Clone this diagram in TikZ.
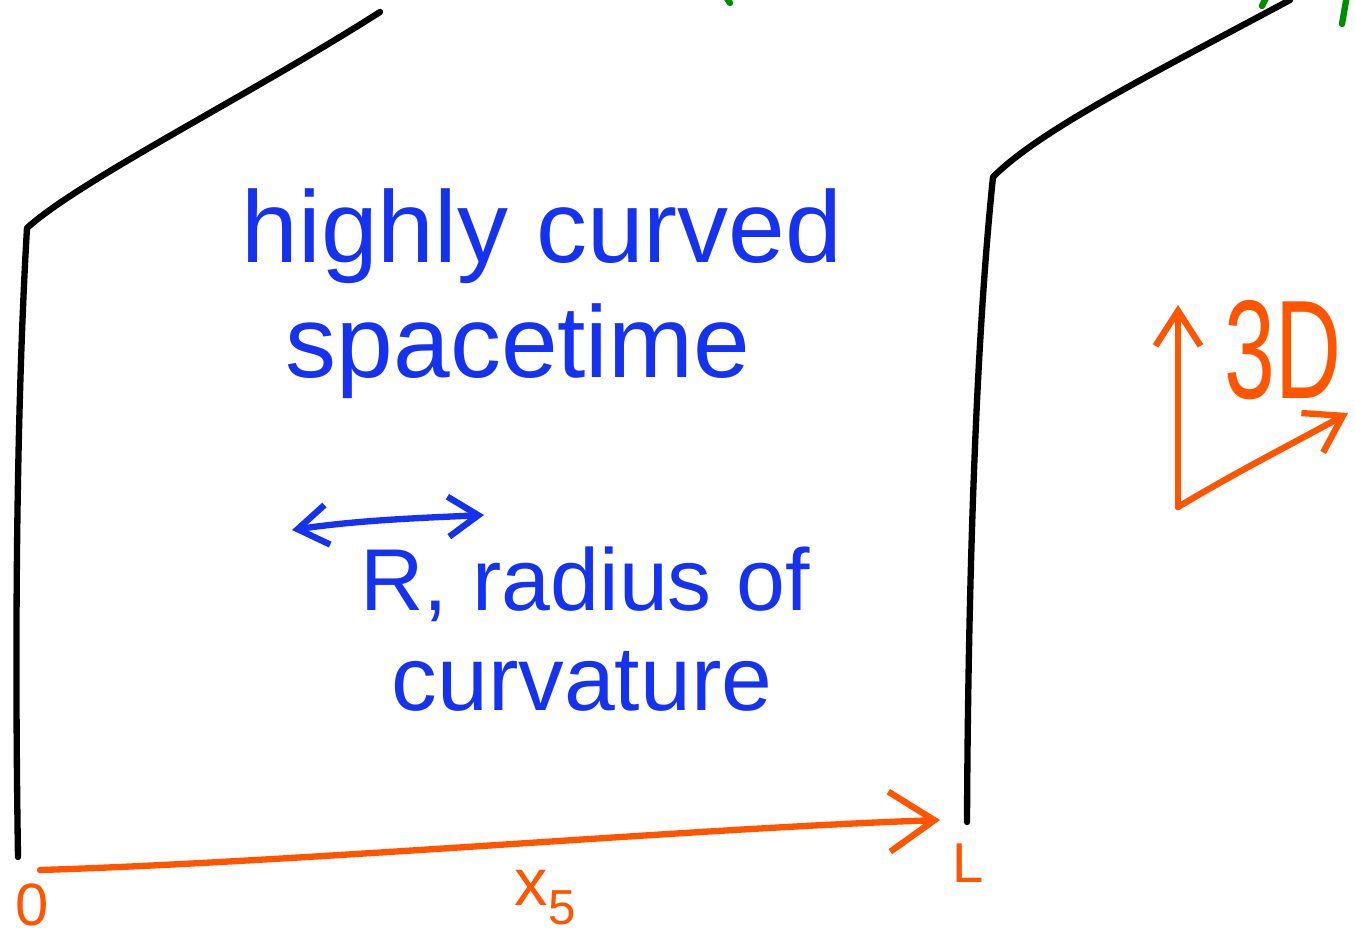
\documentclass[tikz,border=0pt]{standalone}
\usepackage{fontspec}
\setmainfont{Liberation Sans}
\usetikzlibrary{arrows.meta,positioning}

\definecolor{inkblue}{RGB}{20,50,240}
\definecolor{inkorange}{RGB}{255,85,0}
\definecolor{inkgreen}{RGB}{0,140,0}

\begin{document}
\begin{tikzpicture}[
  x=0.02cm,y=-0.02cm,
  pen/.style={line width=3.6pt,line cap=round,line join=round},
  wall/.style={pen,black},
  axis/.style={pen,inkorange,-{Straight Barb[length=9mm,width=12mm]}},
  smallaxis/.style={pen,inkorange,-{Straight Barb[length=7mm,width=9mm]}},
  note/.style={inkblue,font=\fontsize{58}{60}\selectfont,inner sep=0pt,anchor=base},
  tag/.style={inkorange,font=\fontsize{34}{36}\selectfont,inner sep=0pt,anchor=base}
]
\useasboundingbox (0,0) rectangle (1355,940);

% the two walls of the slab
\draw[wall] (18,857) .. controls (14,600) and (18,380) .. (27,228)
  .. controls (80,180) and (250,95) .. (380,12);
\draw[wall] (967,822) .. controls (968,600) and (975,350) .. (993,177)
  .. controls (1040,130) and (1150,75) .. (1290,0);

% green strokes cut off at the top
\draw[pen,inkgreen] (724,-6) -- (730,3);
\draw[pen,inkgreen] (1262,6) -- (1268,-6);
\draw[pen,inkgreen] (1347,-5) -- (1342,24);

% fifth dimension
\coordinate (o) at (40,870);
\coordinate (l) at (940,820);
\draw[axis] (o) .. controls (300,862) and (700,828) .. (l);
\node[tag] (zero) at (32,925) {0};
\node[tag,font=\fontsize{32}{34}\selectfont] (len) at (968,882) {L};
\node[tag,font=\fontsize{38}{40}\selectfont] (x5) at (545,905)
  {x\raisebox{-0.55ex}{\fontsize{28}{30}\selectfont 5}};

% 3D axes
\coordinate (c3) at (1178,507);
\coordinate (up) at (1178,305);
\coordinate (side) at (1348,413);
\draw[smallaxis] (c3) -- (up);
\draw[smallaxis] (c3) .. controls (1240,470) and (1290,445) .. (side);
\node[tag,font=\fontsize{80}{80}\selectfont] (dims) at (1283,398)
  {\scalebox{0.65}[1]{3D}};

% labels inside the slab
\node[note] (curved) at (542,262) {highly curved};
\node[note] (spacetime) at (518,377) {spacetime};
\coordinate (rl) at (292,530);
\coordinate (rr) at (484,515);
\draw[pen,inkblue,{Straight Barb[length=6mm,width=8mm]}-{Straight Barb[length=6mm,width=8mm]}]
  (rl) .. controls (360,520) and (420,518) .. (rr);
\node[note,font=\fontsize{50}{52}\selectfont] (radius) at (585,610) {R, radius of};
\node[note,font=\fontsize{52}{54}\selectfont] (curvature) at (582,710) {curvature};
\end{tikzpicture}
\end{document}
